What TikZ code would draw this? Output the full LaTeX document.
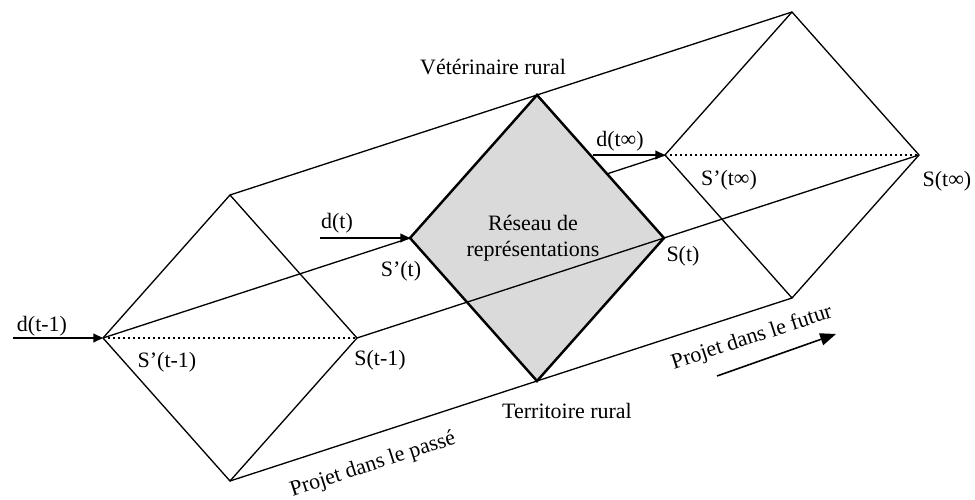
\documentclass[tikz,border=0pt]{standalone}
\usepackage{fontspec}
\setmainfont{Liberation Serif}
\usetikzlibrary{arrows.meta,positioning,calc}
\definecolor{netgray}{RGB}{218,218,218}

\begin{document}
\begin{tikzpicture}[
  x=0.02cm, y=-0.02cm,
  every node/.style={font=\fontsize{12.5}{14.5}\selectfont},
  edge/.style={line width=0.75pt},
  cut/.style={dotted,line width=0.85pt},
  arr/.style={-{Triangle[length=5.5pt,width=5pt]},line width=0.8pt},
  slanted/.style={rotate=18},
]
  \useasboundingbox (0,0) rectangle (975,500);

  % Vertices of the three cuts (past, present, future)
  \coordinate (lw) at (103,338); \coordinate (ln) at (230,195);
  \coordinate (le) at (357,338); \coordinate (ls) at (230,481);
  \coordinate (cw) at (410,238); \coordinate (cn) at (537,95);
  \coordinate (ce) at (664,238); \coordinate (cs) at (537,381);
  \coordinate (rw) at (665,155); \coordinate (rn) at (792,12);
  \coordinate (re) at (919,155); \coordinate (rs) at (792,298);

  % Long edges of the prism
  \draw[edge] (ln) -- (cn) -- (rn);
  \draw[edge] (ls) -- (cs) -- (rs);
  \draw[edge] (lw) -- (cw) -- (rw);

  % Past and future cuts
  \draw[edge] (lw) -- (ln) -- (le) -- (ls) -- cycle;
  \draw[edge] (rw) -- (rn) -- (re) -- (rs) -- cycle;
  \draw[cut] (lw) -- (le);
  \draw[cut] (rw) -- (re);

  % Present cut
  \fill[netgray] (cw) -- (cn) -- (ce) -- (cs) -- cycle;
  \draw[edge] (le) -- (ce) -- (re);
  \draw[line width=1.4pt,line join=miter] (cw) -- (cn) -- (ce) -- (cs) -- cycle;
  \node[align=center] (reseau) at (533,238) {Réseau de\\représentations};

  % Inputs
  \coordinate (din1) at (13,338);
  \coordinate (din2) at (320,238);
  \coordinate (din3) at (593,155);
  \draw[arr] (din1) -- (lw);
  \draw[arr] (din2) -- (cw);
  \draw[arr] (din3) -- (rw);
  \node (dtm) at (42,326) {d(t-1)};
  \node (dt) at (337,223) {d(t)};
  \node (dtinf) at (620,141) {d(t∞)};

  % Vertex labels
  \node (spl) at (167,362) {S'(t-1)};
  \node (sl) at (380,360) {S(t-1)};
  \node (spc) at (401,271) {S'(t)};
  \node (sc) at (683,256) {S(t)};
  \node (spr) at (729,180) {S'(t∞)};
  \node (sr) at (947,181) {S(t∞)};
  \node (vet) at (493,67) {Vétérinaire rural};
  \node (terr) at (567,411) {Territoire rural};

  % Time direction
  \node[slanted] (passe) at (373,465) {Projet dans le passé};
  \node[slanted] (futur) at (752,338) {Projet dans le futur};
  \coordinate (fa) at (717,376);
  \coordinate (fb) at (836,334);
  \draw[-{Triangle[length=9pt,width=7pt]},line width=0.9pt] (fa) -- (fb);
\end{tikzpicture}
\end{document}
